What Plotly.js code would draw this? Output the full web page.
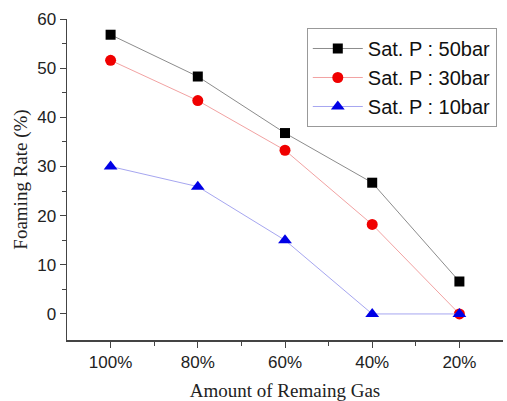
<!DOCTYPE html>
<html><head><meta charset="utf-8">
<script src="https://cdn.plot.ly/plotly-3.0.1.min.js"></script>
<style>html,body{margin:0;padding:0;background:#fff}#c{width:507px;height:401px}</style>
</head><body><div id="c"></div>
<script>
const categories = ["100%", "80%", "60%", "40%", "20%"];
const sat50 = [56.8, 48.3, 36.8, 26.7, 6.6];
const sat30 = [51.6, 43.4, 33.3, 18.2, 0];
const sat10 = [30.0, 25.9, 15.0, 0, 0];
const seriesNames = ["Sat. P : 50bar", "Sat. P : 30bar", "Sat. P : 10bar"];

const idx = categories.map((c, i) => i);
const traces = [
  {x: idx, y: sat50, name: seriesNames[0], mode: "lines+markers",
   line: {color: "#8c8c8c", width: 1}, marker: {symbol: "square", size: 10, color: "#000"}},
  {x: idx, y: sat30, name: seriesNames[1], mode: "lines+markers",
   line: {color: "#f2a2a2", width: 1}, marker: {symbol: "circle", size: 11, color: "#f00000"}},
  {x: idx, y: sat10, name: seriesNames[2], mode: "lines+markers",
   line: {color: "#a6a6f0", width: 1}, marker: {symbol: "triangle-up", size: 12, color: "#0000e6"}}
];
const layout = {
  width: 507, height: 401,
  margin: {l: 67, r: 4, t: 19, b: 61},
  paper_bgcolor: "#fff", plot_bgcolor: "#fff",
  showlegend: true,
  legend: {x: 0.55, y: 0.972, xanchor: "left", yanchor: "top",
    bordercolor: "#999", borderwidth: 1, bgcolor: "#fff",
    font: {family: "Liberation Sans, Arial", size: 20, color: "#111"},
    tracegroupgap: 0, itemwidth: 50},
  xaxis: {range: [-0.5, 4.5], tickvals: idx, ticktext: categories,
    showgrid: false, zeroline: false, showline: true, linecolor: "#444", linewidth: 1.5,
    ticks: "outside", ticklen: 6, tickcolor: "#444",
    minor: {tickvals: [0.5, 1.5, 2.5, 3.5], ticks: "outside", ticklen: 4, tickcolor: "#444"},
    tickfont: {family: "Liberation Sans, Arial", size: 17, color: "#222"},
    title: {text: "Amount of Remaing Gas", font: {family: "Liberation Serif, Times New Roman", size: 19, color: "#222"}, standoff: 16}},
  yaxis: {range: [-5.3, 60], tickvals: [0, 10, 20, 30, 40, 50, 60],
    showgrid: false, zeroline: false, showline: true, linecolor: "#444", linewidth: 1.5,
    ticks: "outside", ticklen: 6, tickcolor: "#444",
    minor: {tickvals: [5, 15, 25, 35, 45, 55], ticks: "outside", ticklen: 4, tickcolor: "#444"},
    tickfont: {family: "Liberation Sans, Arial", size: 17, color: "#222"},
    title: {text: "Foaming Rate (%)", font: {family: "Liberation Serif, Times New Roman", size: 19, color: "#222"}, standoff: 4}}
};
Plotly.newPlot("c", traces, layout, {staticPlot: true, displayModeBar: false});
</script></body></html>
